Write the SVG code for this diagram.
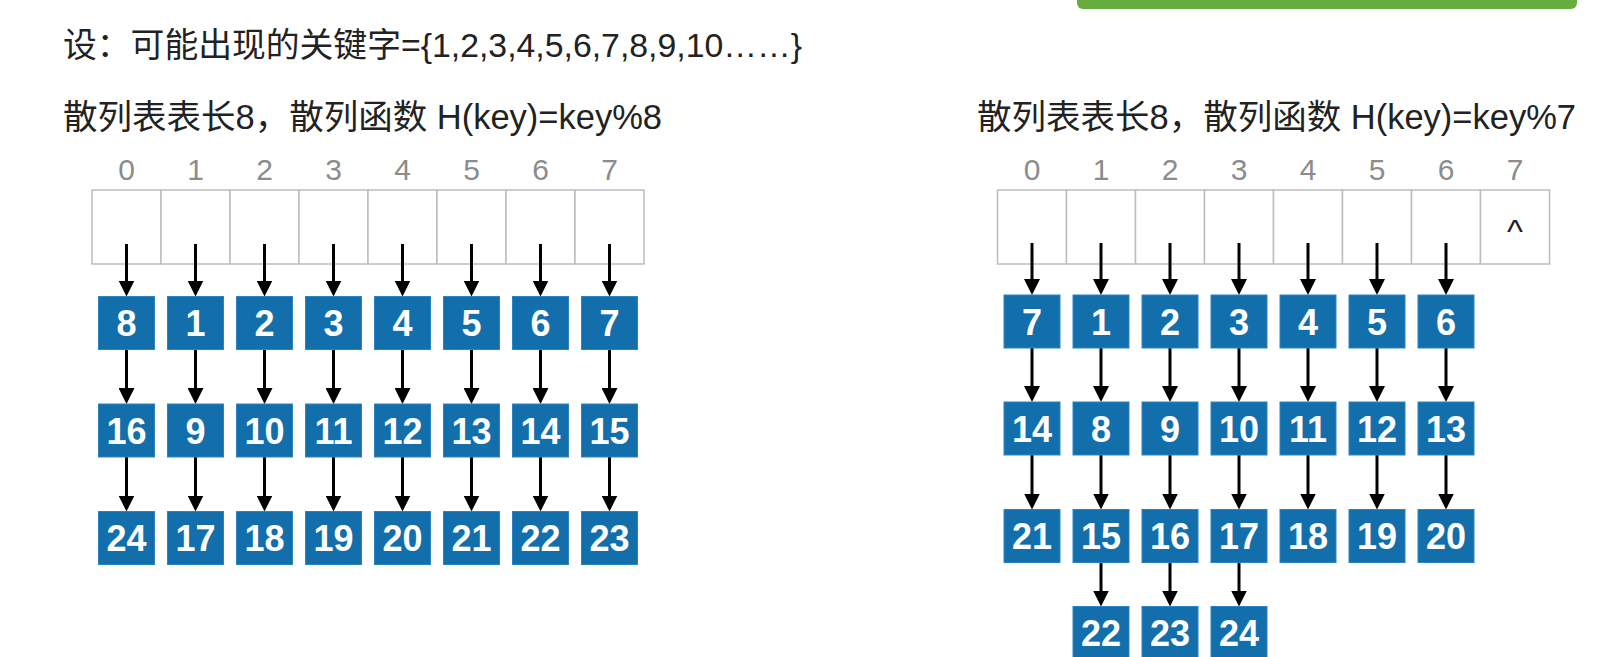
<svg xmlns="http://www.w3.org/2000/svg" width="1604" height="657" viewBox="0 0 1604 657">
<style>
.t{font-family:"Liberation Sans","Noto Sans CJK SC",sans-serif;font-size:34.5px;fill:#222}
.t1{font-size:33.8px}
.idx{font-family:"Liberation Sans",sans-serif;font-size:30px;fill:#8c8c8c;text-anchor:middle}
.cell{fill:#fff;stroke:#bdbdbd;stroke-width:1.5}
.box{fill:#126fac;stroke:#2c84c2;stroke-width:1}
.num{font-family:"Liberation Sans",sans-serif;font-weight:bold;font-size:36px;fill:#fff;text-anchor:middle}
.ar{stroke:#000;stroke-width:3;fill:none;marker-end:url(#ah)}
</style>
<defs>
<marker id="ah" viewBox="0 0 16 16" refX="6" refY="8" markerWidth="16" markerHeight="16" markerUnits="userSpaceOnUse" orient="auto">
<path d="M0,0 L16,8 L0,16 z" fill="#000"/>
</marker>
</defs>
<rect width="1604" height="657" fill="#fff"/>
<rect id="greenbar" x="1077" y="-12" width="500" height="21" rx="6" fill="#67ad3d"/>
<g id="title1"><text class="t t1" x="63" y="57">设：可能出现的关键字={1,2,3,4,5,6,7,8,9,10……}</text></g>
<g id="title2"><text class="t" x="63" y="129">散列表表长8，散列函数 H(key)=key%8</text></g>
<g id="title3"><text class="t" x="977" y="129">散列表表长8，散列函数 H(key)=key%7</text></g>

<g id="tableL">
<rect class="cell" x="92" y="190" width="69" height="74"/><rect class="cell" x="161" y="190" width="69" height="74"/><rect class="cell" x="230" y="190" width="69" height="74"/><rect class="cell" x="299" y="190" width="69" height="74"/><rect class="cell" x="368" y="190" width="69" height="74"/><rect class="cell" x="437" y="190" width="69" height="74"/><rect class="cell" x="506" y="190" width="69" height="74"/><rect class="cell" x="575" y="190" width="69" height="74"/>
<text class="idx" x="126.5" y="180">0</text><text class="idx" x="195.5" y="180">1</text><text class="idx" x="264.5" y="180">2</text><text class="idx" x="333.5" y="180">3</text><text class="idx" x="402.5" y="180">4</text><text class="idx" x="471.5" y="180">5</text><text class="idx" x="540.5" y="180">6</text><text class="idx" x="609.5" y="180">7</text>
</g>
<g id="tableR">
<rect class="cell" x="997.5" y="190" width="69" height="74"/><rect class="cell" x="1066.5" y="190" width="69" height="74"/><rect class="cell" x="1135.5" y="190" width="69" height="74"/><rect class="cell" x="1204.5" y="190" width="69" height="74"/><rect class="cell" x="1273.5" y="190" width="69" height="74"/><rect class="cell" x="1342.5" y="190" width="69" height="74"/><rect class="cell" x="1411.5" y="190" width="69" height="74"/><rect class="cell" x="1480.5" y="190" width="69" height="74"/>
<text class="idx" x="1032" y="180">0</text><text class="idx" x="1101" y="180">1</text><text class="idx" x="1170" y="180">2</text><text class="idx" x="1239" y="180">3</text><text class="idx" x="1308" y="180">4</text><text class="idx" x="1377" y="180">5</text><text class="idx" x="1446" y="180">6</text><text class="idx" x="1515" y="180">7</text>
<text x="1515" y="243" font-family="Liberation Sans, sans-serif" font-size="34" fill="#222" text-anchor="middle">^</text>
</g>

<g id="connectors">
<line class="ar" x1="126.5" y1="244" x2="126.5" y2="286.5"/><line class="ar" x1="195.5" y1="244" x2="195.5" y2="286.5"/><line class="ar" x1="264.5" y1="244" x2="264.5" y2="286.5"/><line class="ar" x1="333.5" y1="244" x2="333.5" y2="286.5"/><line class="ar" x1="402.5" y1="244" x2="402.5" y2="286.5"/><line class="ar" x1="471.5" y1="244" x2="471.5" y2="286.5"/><line class="ar" x1="540.5" y1="244" x2="540.5" y2="286.5"/><line class="ar" x1="609.5" y1="244" x2="609.5" y2="286.5"/>
<line class="ar" x1="126.5" y1="349.5" x2="126.5" y2="394"/><line class="ar" x1="195.5" y1="349.5" x2="195.5" y2="394"/><line class="ar" x1="264.5" y1="349.5" x2="264.5" y2="394"/><line class="ar" x1="333.5" y1="349.5" x2="333.5" y2="394"/><line class="ar" x1="402.5" y1="349.5" x2="402.5" y2="394"/><line class="ar" x1="471.5" y1="349.5" x2="471.5" y2="394"/><line class="ar" x1="540.5" y1="349.5" x2="540.5" y2="394"/><line class="ar" x1="609.5" y1="349.5" x2="609.5" y2="394"/>
<line class="ar" x1="126.5" y1="457" x2="126.5" y2="501.5"/><line class="ar" x1="195.5" y1="457" x2="195.5" y2="501.5"/><line class="ar" x1="264.5" y1="457" x2="264.5" y2="501.5"/><line class="ar" x1="333.5" y1="457" x2="333.5" y2="501.5"/><line class="ar" x1="402.5" y1="457" x2="402.5" y2="501.5"/><line class="ar" x1="471.5" y1="457" x2="471.5" y2="501.5"/><line class="ar" x1="540.5" y1="457" x2="540.5" y2="501.5"/><line class="ar" x1="609.5" y1="457" x2="609.5" y2="501.5"/>
<line class="ar" x1="1032" y1="243" x2="1032" y2="285"/><line class="ar" x1="1101" y1="243" x2="1101" y2="285"/><line class="ar" x1="1170" y1="243" x2="1170" y2="285"/><line class="ar" x1="1239" y1="243" x2="1239" y2="285"/><line class="ar" x1="1308" y1="243" x2="1308" y2="285"/><line class="ar" x1="1377" y1="243" x2="1377" y2="285"/><line class="ar" x1="1446" y1="243" x2="1446" y2="285"/>
<line class="ar" x1="1032" y1="348" x2="1032" y2="392"/><line class="ar" x1="1101" y1="348" x2="1101" y2="392"/><line class="ar" x1="1170" y1="348" x2="1170" y2="392"/><line class="ar" x1="1239" y1="348" x2="1239" y2="392"/><line class="ar" x1="1308" y1="348" x2="1308" y2="392"/><line class="ar" x1="1377" y1="348" x2="1377" y2="392"/><line class="ar" x1="1446" y1="348" x2="1446" y2="392"/>
<line class="ar" x1="1032" y1="455" x2="1032" y2="499.5"/><line class="ar" x1="1101" y1="455" x2="1101" y2="499.5"/><line class="ar" x1="1170" y1="455" x2="1170" y2="499.5"/><line class="ar" x1="1239" y1="455" x2="1239" y2="499.5"/><line class="ar" x1="1308" y1="455" x2="1308" y2="499.5"/><line class="ar" x1="1377" y1="455" x2="1377" y2="499.5"/><line class="ar" x1="1446" y1="455" x2="1446" y2="499.5"/>
<line class="ar" x1="1101" y1="562.5" x2="1101" y2="596.5"/><line class="ar" x1="1170" y1="562.5" x2="1170" y2="596.5"/><line class="ar" x1="1239" y1="562.5" x2="1239" y2="596.5"/>
</g>

<g id="L8"><rect class="box" x="98.5" y="296.5" width="56" height="53"/><text class="num" x="126.5" y="336">8</text></g>
<g id="L1"><rect class="box" x="167.5" y="296.5" width="56" height="53"/><text class="num" x="195.5" y="336">1</text></g>
<g id="L2"><rect class="box" x="236.5" y="296.5" width="56" height="53"/><text class="num" x="264.5" y="336">2</text></g>
<g id="L3"><rect class="box" x="305.5" y="296.5" width="56" height="53"/><text class="num" x="333.5" y="336">3</text></g>
<g id="L4"><rect class="box" x="374.5" y="296.5" width="56" height="53"/><text class="num" x="402.5" y="336">4</text></g>
<g id="L5"><rect class="box" x="443.5" y="296.5" width="56" height="53"/><text class="num" x="471.5" y="336">5</text></g>
<g id="L6"><rect class="box" x="512.5" y="296.5" width="56" height="53"/><text class="num" x="540.5" y="336">6</text></g>
<g id="L7"><rect class="box" x="581.5" y="296.5" width="56" height="53"/><text class="num" x="609.5" y="336">7</text></g>

<g id="L16"><rect class="box" x="98.5" y="404" width="56" height="53"/><text class="num" x="126.5" y="443.5">16</text></g>
<g id="L9"><rect class="box" x="167.5" y="404" width="56" height="53"/><text class="num" x="195.5" y="443.5">9</text></g>
<g id="L10"><rect class="box" x="236.5" y="404" width="56" height="53"/><text class="num" x="264.5" y="443.5">10</text></g>
<g id="L11"><rect class="box" x="305.5" y="404" width="56" height="53"/><text class="num" x="333.5" y="443.5">11</text></g>
<g id="L12"><rect class="box" x="374.5" y="404" width="56" height="53"/><text class="num" x="402.5" y="443.5">12</text></g>
<g id="L13"><rect class="box" x="443.5" y="404" width="56" height="53"/><text class="num" x="471.5" y="443.5">13</text></g>
<g id="L14"><rect class="box" x="512.5" y="404" width="56" height="53"/><text class="num" x="540.5" y="443.5">14</text></g>
<g id="L15"><rect class="box" x="581.5" y="404" width="56" height="53"/><text class="num" x="609.5" y="443.5">15</text></g>

<g id="L24"><rect class="box" x="98.5" y="511.5" width="56" height="53"/><text class="num" x="126.5" y="551">24</text></g>
<g id="L17"><rect class="box" x="167.5" y="511.5" width="56" height="53"/><text class="num" x="195.5" y="551">17</text></g>
<g id="L18"><rect class="box" x="236.5" y="511.5" width="56" height="53"/><text class="num" x="264.5" y="551">18</text></g>
<g id="L19"><rect class="box" x="305.5" y="511.5" width="56" height="53"/><text class="num" x="333.5" y="551">19</text></g>
<g id="L20"><rect class="box" x="374.5" y="511.5" width="56" height="53"/><text class="num" x="402.5" y="551">20</text></g>
<g id="L21"><rect class="box" x="443.5" y="511.5" width="56" height="53"/><text class="num" x="471.5" y="551">21</text></g>
<g id="L22"><rect class="box" x="512.5" y="511.5" width="56" height="53"/><text class="num" x="540.5" y="551">22</text></g>
<g id="L23"><rect class="box" x="581.5" y="511.5" width="56" height="53"/><text class="num" x="609.5" y="551">23</text></g>

<g id="R7"><rect class="box" x="1004" y="295" width="56" height="53"/><text class="num" x="1032" y="334.5">7</text></g>
<g id="R1"><rect class="box" x="1073" y="295" width="56" height="53"/><text class="num" x="1101" y="334.5">1</text></g>
<g id="R2"><rect class="box" x="1142" y="295" width="56" height="53"/><text class="num" x="1170" y="334.5">2</text></g>
<g id="R3"><rect class="box" x="1211" y="295" width="56" height="53"/><text class="num" x="1239" y="334.5">3</text></g>
<g id="R4"><rect class="box" x="1280" y="295" width="56" height="53"/><text class="num" x="1308" y="334.5">4</text></g>
<g id="R5"><rect class="box" x="1349" y="295" width="56" height="53"/><text class="num" x="1377" y="334.5">5</text></g>
<g id="R6"><rect class="box" x="1418" y="295" width="56" height="53"/><text class="num" x="1446" y="334.5">6</text></g>

<g id="R14"><rect class="box" x="1004" y="402" width="56" height="53"/><text class="num" x="1032" y="441.5">14</text></g>
<g id="R8"><rect class="box" x="1073" y="402" width="56" height="53"/><text class="num" x="1101" y="441.5">8</text></g>
<g id="R9"><rect class="box" x="1142" y="402" width="56" height="53"/><text class="num" x="1170" y="441.5">9</text></g>
<g id="R10"><rect class="box" x="1211" y="402" width="56" height="53"/><text class="num" x="1239" y="441.5">10</text></g>
<g id="R11"><rect class="box" x="1280" y="402" width="56" height="53"/><text class="num" x="1308" y="441.5">11</text></g>
<g id="R12"><rect class="box" x="1349" y="402" width="56" height="53"/><text class="num" x="1377" y="441.5">12</text></g>
<g id="R13"><rect class="box" x="1418" y="402" width="56" height="53"/><text class="num" x="1446" y="441.5">13</text></g>

<g id="R21"><rect class="box" x="1004" y="509.5" width="56" height="53"/><text class="num" x="1032" y="549">21</text></g>
<g id="R15"><rect class="box" x="1073" y="509.5" width="56" height="53"/><text class="num" x="1101" y="549">15</text></g>
<g id="R16"><rect class="box" x="1142" y="509.5" width="56" height="53"/><text class="num" x="1170" y="549">16</text></g>
<g id="R17"><rect class="box" x="1211" y="509.5" width="56" height="53"/><text class="num" x="1239" y="549">17</text></g>
<g id="R18"><rect class="box" x="1280" y="509.5" width="56" height="53"/><text class="num" x="1308" y="549">18</text></g>
<g id="R19"><rect class="box" x="1349" y="509.5" width="56" height="53"/><text class="num" x="1377" y="549">19</text></g>
<g id="R20"><rect class="box" x="1418" y="509.5" width="56" height="53"/><text class="num" x="1446" y="549">20</text></g>

<g id="R22"><rect class="box" x="1073" y="606.5" width="56" height="53"/><text class="num" x="1101" y="646">22</text></g>
<g id="R23"><rect class="box" x="1142" y="606.5" width="56" height="53"/><text class="num" x="1170" y="646">23</text></g>
<g id="R24"><rect class="box" x="1211" y="606.5" width="56" height="53"/><text class="num" x="1239" y="646">24</text></g>
</svg>
